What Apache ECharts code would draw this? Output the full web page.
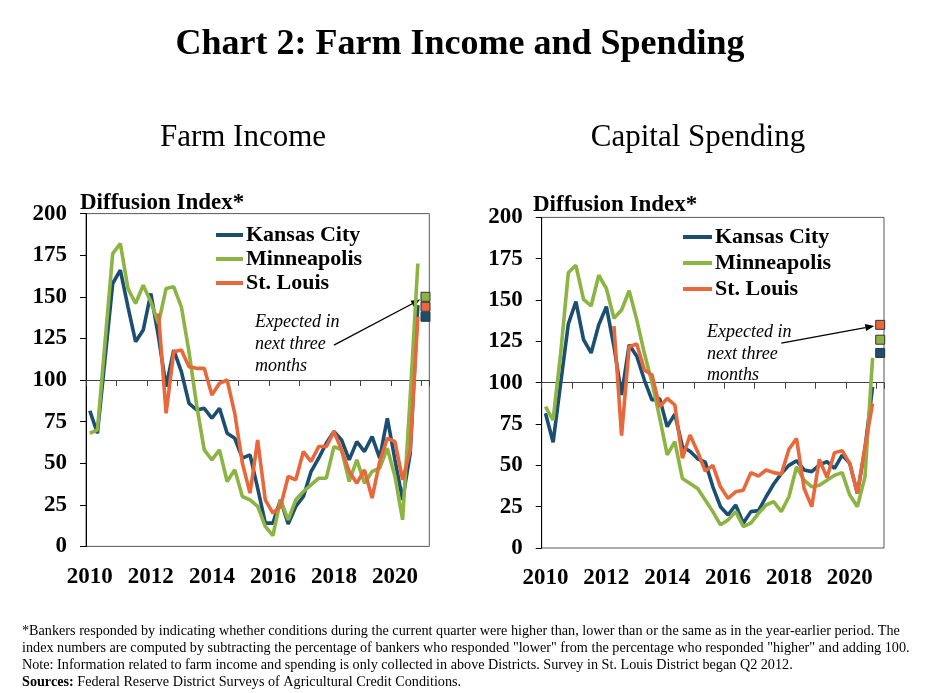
<!DOCTYPE html>
<html><head><meta charset="utf-8">
<script src="https://cdn.jsdelivr.net/npm/echarts@6/dist/echarts.min.js"></script>
<style>html,body{margin:0;padding:0;background:#fff}#c{width:925px;height:693px}</style>
</head><body><div id="c"></div>
<script>
// ---------- DATA ----------
const quarters = [
  '2010Q1','2010Q2','2010Q3','2010Q4','2011Q1','2011Q2','2011Q3','2011Q4',
  '2012Q1','2012Q2','2012Q3','2012Q4','2013Q1','2013Q2','2013Q3','2013Q4',
  '2014Q1','2014Q2','2014Q3','2014Q4','2015Q1','2015Q2','2015Q3','2015Q4',
  '2016Q1','2016Q2','2016Q3','2016Q4','2017Q1','2017Q2','2017Q3','2017Q4',
  '2018Q1','2018Q2','2018Q3','2018Q4','2019Q1','2019Q2','2019Q3','2019Q4',
  '2020Q1','2020Q2','2020Q3','2020Q4','2021Q1'
];
const seriesNames = ['Kansas City','Minneapolis','St. Louis'];

// Farm Income diffusion index
const incomeKansasCity = [81.5,68,113,158,166,144,123,130,152,126,96,118,105,86,82,83,77,83,68,65,
  53,55,35,14,14,28,13.5,24,30,45,53,62,69,64,52,63,57,66,53,77,52,28,56,145];
const incomeMinneapolis = [68,70,123,176,182,155,146,157,147,134,155,156,144,117,85,58,52,58,39,46,
  30,28,24,12,6.5,28,16,28,33,37,41,41,60,58,39,52,38,45,47,59,42,16,90,170];
const incomeStLouis = [null,null,null,null,null,null,null,null,null,140,80,117,118,108,107,107,91,98,100,80,
  50,32,64,28,20,24,42,40,57,51,60,60,69,58,45,38,46,29,51,65,63,40,58,138];
// Expected in next three months (Kansas City, Minneapolis, St. Louis)
const incomeExpected = [138,150,144];

// Capital Spending diffusion index
const spendKansasCity = [81.5,64,100,135.5,149,126,118,135,146,122,92.6,123,116,101.6,89.5,90.5,73.4,81,61.3,58.5,
  54,52,37,25,20,26,15,22,22.6,31,38.7,45,50,52.8,47.2,46.2,50.2,52.2,48.2,56.2,51.2,33,60,97.6];
const spendMinneapolis = [85.5,77.4,118,166.5,171,150.4,146.4,165,157,139,144,155.7,138,117.8,100,79,56.3,64.3,42,39,
  36,29,22,14,17,22,13,15,21,26,28,22,31,49,41,37,38,41,44,45.6,32,25,43,115];
const spendStLouis = [null,null,null,null,null,null,null,null,null,134.3,68,121.8,123.4,107.7,104.7,85.5,90.5,86.5,54.3,68.4,
  58.3,46.5,50,37,30,34,35,45.6,43.5,47.2,45.6,44.7,59.7,66.3,36,25,53.6,42.7,57.7,58.9,51.2,33,61.3,87.5];
const spendExpected = [118,126,135];

const yTicks = [0,25,50,75,100,125,150,175,200];

// ---------- STYLE ----------
const FONT = '"Liberation Serif", "Times New Roman", serif';
const COLORS = ['#1b4f72', '#8cb443', '#e8683c'];
const grids = [
  {left: 86, top: 213.6, width: 343.3, height: 332.8},
  {left: 541.7, top: 217.4, width: 342.3, height: 330.6}
];

const chart = echarts.init(document.getElementById('c'));

function xAxes(gi) {
  const g = grids[gi];
  return [
    {type: 'category', gridIndex: gi, data: quarters, boundaryGap: true, position: 'bottom',
      axisLine: {show: false}, axisTick: {show: false}, splitLine: {show: false},
      axisLabel: {interval: 0, formatter: (v, i) => (i % 8 === 0 && i < quarters.length - 1) ? v.slice(0, 4) : '',
        fontFamily: FONT, fontWeight: 'bold', fontSize: 23, color: '#000', margin: 19}},
    {type: 'category', gridIndex: gi, data: quarters, boundaryGap: true, position: 'bottom', offset: -g.height / 2,
      axisLine: {show: true, lineStyle: {color: '#404040', width: 1}},
      axisTick: {show: true, interval: (i) => i % 4 === 0, length: 6, lineStyle: {color: '#404040', width: 1}},
      axisLabel: {show: false}, splitLine: {show: false}}
  ];
}
function yAxis(gi) {
  return {type: 'value', gridIndex: gi, min: yTicks[0], max: yTicks[yTicks.length - 1], interval: 25,
    axisLine: {show: true, lineStyle: {color: '#000', width: 1}},
    axisTick: {show: true, length: 6, lineStyle: {color: '#000'}},
    splitLine: {show: false},
    axisLabel: {fontFamily: FONT, fontWeight: 'bold', fontSize: 23, color: '#000', margin: 19}};
}
function lines(gi, arrs) {
  return arrs.map((d, k) => ({
    type: 'line', name: seriesNames[k], data: d, xAxisIndex: gi * 2, yAxisIndex: gi,
    symbol: 'none', showSymbol: false, connectNulls: false,
    lineStyle: {width: 3.6, color: COLORS[k]}, itemStyle: {color: COLORS[k]}, z: 2 + k
  }));
}
function expected(gi, vals) {
  return vals.map((v, k) => ({
    type: 'scatter', name: seriesNames[k] + ' expected', xAxisIndex: gi * 2, yAxisIndex: gi,
    data: [[quarters.length - 1, v]], symbol: 'rect', symbolSize: 9,
    itemStyle: {color: COLORS[k], borderColor: '#333', borderWidth: 1, opacity: 1}, z: 10
  }));
}
function legend(left, top, gap, w) {
  return {orient: 'vertical', left: left, top: top, padding: 0, itemWidth: w, itemHeight: 4, icon: 'rect', itemGap: gap,
    data: seriesNames, selectedMode: false,
    textStyle: {fontFamily: FONT, fontWeight: 'bold', fontSize: 22, lineHeight: 22, color: '#000', padding: [0, 0, 0, -2]}};
}
function txt(text, x, y, font, align) {
  return {type: 'text', x: x, y: y, silent: true,
    style: {text: text, font: font, fill: '#000', textAlign: align || 'left', align: align || 'left',
      textVerticalAlign: 'middle', verticalAlign: 'middle'}};
}

const series = [].concat(
  lines(0, [incomeKansasCity, incomeMinneapolis, incomeStLouis]),
  expected(0, incomeExpected),
  lines(1, [spendKansasCity, spendMinneapolis, spendStLouis]),
  expected(1, spendExpected)
);

const footnote = '*Bankers responded by indicating whether conditions during the current quarter were higher than, lower than or the same as in the year-earlier period. The\n' +
  'index numbers are computed by subtracting the percentage of bankers who responded "lower" from the percentage who responded "higher" and adding 100.\n' +
  'Note: Information related to farm income and spending is only collected in above Districts. Survey in St. Louis District began Q2 2012.\n' +
  '{b|Sources:} Federal Reserve District Surveys of Agricultural Credit Conditions.';

const graphics = [
  txt('Chart 2: Farm Income and Spending', 460, 45, 'bold 36px ' + FONT, 'center'),
  txt('Farm Income', 243, 138, '31px ' + FONT, 'center'),
  txt('Capital Spending', 698, 138, '31px ' + FONT, 'center'),
  txt('Diffusion Index*', 80, 203, 'bold 23px ' + FONT),
  txt('Diffusion Index*', 533, 205, 'bold 23px ' + FONT),
  {type: 'text', x: 255, y: 311, silent: true,
    style: {text: 'Expected in\nnext three\nmonths', font: 'italic 18px ' + FONT, lineHeight: 22, fill: '#000'}},
  {type: 'text', x: 707, y: 322, silent: true,
    style: {text: 'Expected in\nnext three\nmonths', font: 'italic 18px ' + FONT, lineHeight: 21.5, fill: '#000'}},
  {type: 'text', x: 22, y: 623, silent: true,
    style: {text: footnote, font: '14.2px ' + FONT, lineHeight: 17, fill: '#000',
      rich: {b: {fontWeight: 'bold', fontSize: 14.2, fontFamily: FONT, lineHeight: 17}}}}
];

chart.setOption({
  animation: false,
  backgroundColor: '#fff',
  grid: grids.map(g => Object.assign({show: true, borderColor: '#595959', borderWidth: 1, backgroundColor: 'transparent', containLabel: false}, g)),
  xAxis: [].concat(xAxes(0), xAxes(1)),
  yAxis: [yAxis(0), yAxis(1)],
  legend: [legend(216, 224, 2, 27), legend(683, 226, 4, 29)],
  series: series,
  graphic: graphics
});

// annotation arrows from the text to the expected markers
function arrow(seriesIndex, fromIdx, fromVal, toVal) {
  const p1 = chart.convertToPixel({seriesIndex: seriesIndex}, [fromIdx, fromVal]);
  const p2 = chart.convertToPixel({seriesIndex: seriesIndex}, [quarters.length - 1, toVal]);
  const dx = p2[0] - p1[0], dy = p2[1] - p1[1];
  const len = Math.sqrt(dx * dx + dy * dy);
  const ux = dx / len, uy = dy / len;
  const tip = [p2[0] - ux * 6, p2[1] - uy * 6];
  const base = [tip[0] - ux * 9, tip[1] - uy * 9];
  const nx = -uy, ny = ux;
  return [
    {type: 'line', silent: true, shape: {x1: p1[0], y1: p1[1], x2: base[0], y2: base[1]}, style: {stroke: '#000', lineWidth: 1.3}},
    {type: 'polygon', silent: true, shape: {points: [tip, [base[0] + nx * 3.5, base[1] + ny * 3.5], [base[0] - nx * 3.5, base[1] - ny * 3.5]]}, style: {fill: '#000'}}
  ];
}
const arrows = [].concat(arrow(4, 32, 121, incomeExpected[1]), arrow(11, 31, 124, spendExpected[2]));
chart.setOption({graphic: graphics.concat(arrows)});
</script>
</body></html>
